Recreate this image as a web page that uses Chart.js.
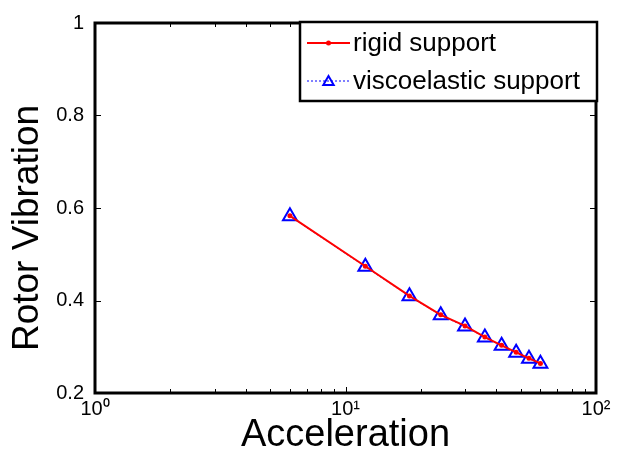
<!DOCTYPE html>
<html>
<head>
<meta charset="utf-8">
<script src="https://cdn.jsdelivr.net/npm/chart.js@4"></script>
<style>
  html, body { margin: 0; padding: 0; background: #fff; }
  #wrap { width: 617px; height: 461px; }
</style>
</head>
<body>
<div id="wrap"><canvas id="c" width="617" height="461"></canvas></div>
<script>
// ---- data ----
const acceleration = [6, 12, 18, 24, 30, 36, 42, 48, 54, 60];
const rigidSupport = [0.583, 0.474, 0.410, 0.369, 0.345, 0.321, 0.303, 0.288, 0.275, 0.264];
const viscoelasticSupport = [0.582, 0.473, 0.409, 0.368, 0.344, 0.320, 0.302, 0.287, 0.274, 0.263];
const seriesLabels = ['rigid support', 'viscoelastic support'];
const xTickValues = [1, 10, 100];
const xTickLabels = ['10\u2070', '10\u00B9', '10\u00B2'];
const xMinorTickValues = [2, 3, 4, 5, 6, 7, 8, 9, 20, 30, 40, 50, 60, 70, 80, 90];
const yTickValues = [0.2, 0.4, 0.6, 0.8, 1];
const yTickLabels = ['0.2', '0.4', '0.6', '0.8', '1'];
const xTitle = 'Acceleration';
const yTitle = 'Rotor Vibration';

const FONT = '"Liberation Sans", Arial, sans-serif';

const toPts = (xs, ys) => xs.map((x, i) => ({ x: x, y: ys[i] }));

const boxPlugin = {
  id: 'boxPlugin',
  afterDraw(chart) {
    const ctx = chart.ctx;
    const a = chart.chartArea;
    const xs = chart.scales.x, ys = chart.scales.y;
    ctx.save();
    // ticks (inward)
    ctx.strokeStyle = '#000';
    ctx.lineWidth = 1;
    const major = 6, minor = 4;
    ctx.beginPath();
    xTickValues.forEach(v => {
      const px = Math.round(xs.getPixelForValue(v)) + 0.5;
      ctx.moveTo(px, a.bottom); ctx.lineTo(px, a.bottom - major);
      ctx.moveTo(px, a.top); ctx.lineTo(px, a.top + major);
    });
    xMinorTickValues.forEach(v => {
      const px = Math.round(xs.getPixelForValue(v)) + 0.5;
      ctx.moveTo(px, a.bottom); ctx.lineTo(px, a.bottom - minor);
      ctx.moveTo(px, a.top); ctx.lineTo(px, a.top + minor);
    });
    yTickValues.forEach(v => {
      const py = Math.round(ys.getPixelForValue(v)) + 0.5;
      ctx.moveTo(a.left, py); ctx.lineTo(a.left + major, py);
      ctx.moveTo(a.right, py); ctx.lineTo(a.right - major, py);
    });
    ctx.stroke();
    // axes box
    ctx.lineWidth = 3;
    ctx.strokeRect(a.left, a.top, a.right - a.left, a.bottom - a.top);

    // legend
    const lx = 300, ly = 22, lw = 297, lh = 79;
    ctx.fillStyle = '#fff';
    ctx.fillRect(lx, ly, lw, lh);
    ctx.lineWidth = 2.5;
    ctx.strokeStyle = '#000';
    ctx.strokeRect(lx, ly, lw, lh);
    const ds = chart.data.datasets;
    const rows = [43, 81];
    rows.forEach((ry, i) => {
      const d = ds[i];
      ctx.save();
      ctx.strokeStyle = d.borderColor;
      ctx.lineWidth = d.borderWidth;
      ctx.setLineDash(d.borderDash || []);
      ctx.beginPath();
      ctx.moveTo(307, ry); ctx.lineTo(350, ry);
      ctx.stroke();
      ctx.setLineDash([]);
      if (i === 0) {
        ctx.fillStyle = d.pointBackgroundColor;
        ctx.beginPath(); ctx.arc(328.5, ry, 2.5, 0, Math.PI * 2); ctx.fill();
      } else {
        ctx.strokeStyle = d.pointBorderColor;
        ctx.lineWidth = 2;
        const r = 6, cx = 328.5, cy = ry + 1;
        ctx.beginPath();
        ctx.moveTo(cx, cy - r);
        ctx.lineTo(cx + r * 0.866, cy + r * 0.5);
        ctx.lineTo(cx - r * 0.866, cy + r * 0.5);
        ctx.closePath();
        ctx.stroke();
      }
      ctx.restore();
      ctx.fillStyle = '#000';
      ctx.font = '26px ' + FONT;
      ctx.textAlign = 'left';
      ctx.textBaseline = 'middle';
      ctx.fillText(d.label, 353, ry + 1);
    });

    // axis titles
    ctx.fillStyle = '#000';
    ctx.font = '38px ' + FONT;
    ctx.textAlign = 'center';
    ctx.textBaseline = 'alphabetic';
    ctx.fillText(xTitle, (a.left + a.right) / 2, 446);
    ctx.save();
    ctx.translate(38, 228);
    ctx.rotate(-Math.PI / 2);
    ctx.font = '37px ' + FONT;
    ctx.fillText(yTitle, 0, 0);
    ctx.restore();
    ctx.restore();
  }
};

new Chart(document.getElementById('c'), {
  type: 'line',
  data: {
    datasets: [
      {
        label: seriesLabels[0],
        data: toPts(acceleration, rigidSupport),
        borderColor: '#ff0000',
        borderWidth: 2,
        pointStyle: 'circle',
        pointRadius: 2.5,
        pointBackgroundColor: '#ff0000',
        pointBorderColor: '#ff0000',
        pointBorderWidth: 0,
        fill: false,
        tension: 0
      },
      {
        label: seriesLabels[1],
        data: toPts(acceleration, viscoelasticSupport),
        borderColor: '#0000ff',
        borderWidth: 1,
        borderDash: [2, 2],
        pointStyle: 'triangle',
        pointRadius: 8,
        pointBackgroundColor: 'rgba(0,0,0,0)',
        pointBorderColor: '#0000ff',
        pointBorderWidth: 2,
        fill: false,
        tension: 0
      }
    ]
  },
  options: {
    responsive: false,
    animation: false,
    events: [],
    layout: { padding: { top: 23, right: 21, left: 0, bottom: 0 } },
    plugins: {
      legend: { display: false },
      tooltip: { enabled: false },
      title: { display: false }
    },
    scales: {
      x: {
        type: 'logarithmic',
        min: 1,
        max: 100,
        grid: { display: false, drawTicks: false },
        border: { display: false },
        afterBuildTicks: s => { s.ticks = xTickValues.map(v => ({ value: v })); },
        afterFit: s => { s.height = 68; },
        ticks: {
          autoSkip: false,
          maxRotation: 0,
          padding: 4,
          color: '#000',
          font: { family: FONT, size: 20 },
          callback: (v) => { const i = xTickValues.indexOf(v); return i >= 0 ? xTickLabels[i] : ''; }
        }
      },
      y: {
        type: 'linear',
        min: 0.2,
        max: 1,
        grid: { display: false, drawTicks: false },
        border: { display: false },
        afterBuildTicks: s => { s.ticks = yTickValues.map(v => ({ value: v })); },
        afterFit: s => { s.width = 95; },
        ticks: {
          padding: 11,
          color: '#000',
          font: { family: FONT, size: 20 },
          callback: (v) => { const i = yTickValues.findIndex(t => Math.abs(t - v) < 1e-9); return i >= 0 ? yTickLabels[i] : ''; }
        }
      }
    }
  },
  plugins: [boxPlugin]
});
</script>
</body>
</html>
